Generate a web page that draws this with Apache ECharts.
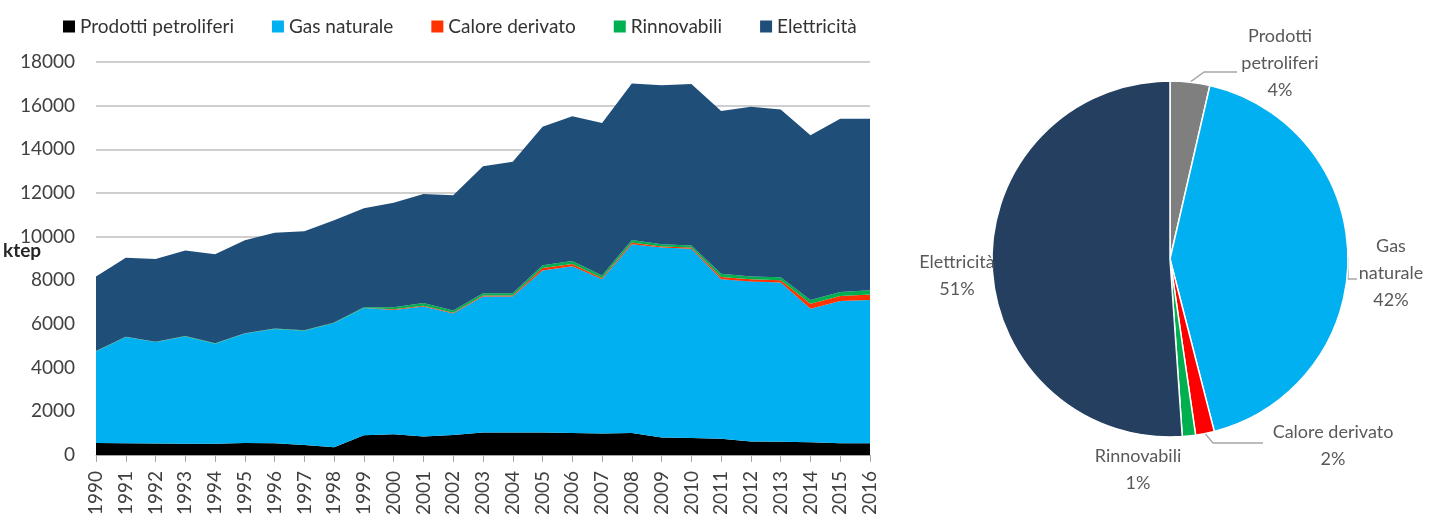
<!DOCTYPE html>
<html>
<head>
<meta charset="utf-8">
<script src="https://cdn.jsdelivr.net/npm/echarts@6/dist/echarts.min.js"></script>
<style>
html,body{margin:0;padding:0;background:#fff;}
#c{width:1446px;height:520px;}
</style>
</head>
<body>
<div id="c"></div>
<script>
const years = ['1990','1991','1992','1993','1994','1995','1996','1997','1998','1999','2000','2001','2002','2003','2004','2005','2006','2007','2008','2009','2010','2011','2012','2013','2014','2015','2016'];
const petrol = [550,540,530,520,520,550,540,460,350,900,950,850,920,1030,1030,1030,1010,990,1010,800,780,740,620,610,580,540,540];
const gas = [4190,4860,4640,4910,4580,5010,5230,5230,5700,5830,5690,5950,5560,6230,6230,7420,7640,7060,8640,8700,8670,7310,7330,7290,6120,6510,6560];
const heat = [0,0,0,0,0,0,0,0,0,0,30,40,40,50,50,120,100,60,80,50,50,100,100,100,230,230,250];
const renew = [20,20,20,20,20,20,20,20,20,40,100,120,100,100,100,120,130,110,120,100,100,150,130,140,170,180,200];
const elec = [3420,3620,3790,3920,4080,4260,4390,4540,4680,4530,4780,4990,5280,5810,6020,6340,6640,6990,7170,7290,7390,7460,7770,7680,7550,7940,7850];
const yTicks = {min:0, max:18000, interval:2000};

const seriesNames = ['Prodotti petroliferi','Gas naturale','Calore derivato','Rinnovabili','Elettricità'];
const pieLabelNames = ['Prodotti\npetroliferi','Gas\nnaturale','Calore derivato','Rinnovabili','Elettricità'];
const pieShares = [3.6, 42.4, 1.7, 1.2, 51.1];

const areaColors = ['#000000','#00B0F0','#FF3300','#00B050','#1F4E79'];
const pieColors = ['#7F7F7F','#00B0F0','#FF0000','#00B050','#243F60'];
const FONT = 'Lato';

const chart = echarts.init(document.getElementById('c'), null, {renderer:'canvas'});

const areaData = [petrol, gas, heat, renew, elec];
const areaSeries = seriesNames.map((n,i)=>({
  name:n, type:'line', stack:'tot', data:areaData[i],
  symbol:'none', showSymbol:false,
  lineStyle:{width:0}, areaStyle:{color:areaColors[i], opacity:1},
  itemStyle:{color:areaColors[i]}, z:2
}));

// label placement for pie (text layout only)
const pieLabelPos = [
  {x:1280, y:63, line:(p)=>[p, [p[0]+14,72],[1237,72]]},
  {x:1391, y:273, line:(p)=>[p, [p[0],279],[p[0]+9,279]]},
  {x:1333, y:446, line:(p)=>[p, [p[0]+8,443],[1263,443]]},
  {x:1138, y:470, line:null},
  {x:957, y:276, line:null}
];

chart.setOption({
  animation:false,
  textStyle:{fontFamily:FONT},
  legend:{
    data:seriesNames, left:58, top:12, icon:'rect', itemWidth:12, itemHeight:12, itemGap:38,
    textStyle:{fontSize:19, color:'#333333', fontFamily:FONT}
  },
  grid:{left:96, top:62, width:774, height:393, containLabel:false},
  xAxis:{
    type:'category', data:years, boundaryGap:false,
    axisLine:{show:true, lineStyle:{color:'#A6A6A6'}},
    axisTick:{show:true, length:7, lineStyle:{color:'#A6A6A6'}},
    axisLabel:{rotate:90, margin:16, fontSize:19, color:'#404040', fontFamily:FONT, interval:0}
  },
  yAxis:{
    type:'value', min:yTicks.min, max:yTicks.max, interval:yTicks.interval,
    axisLine:{show:false}, axisTick:{show:false},
    axisLabel:{margin:21, fontSize:19, color:'#404040', fontFamily:FONT, formatter:(v)=>String(v)},
    splitLine:{show:true, lineStyle:{color:'#BFBFBF', width:1.5}}
  },
  graphic:[{type:'text', left:3, top:241, style:{text:'ktep', font:'bold 19px '+FONT, fill:'#262626'}}],
  series: areaSeries.concat([{
    type:'pie', center:[1170,259], radius:178, startAngle:90, clockwise:true,
    avoidLabelOverlap:false,
    itemStyle:{borderColor:'#ffffff', borderWidth:1.5},
    label:{show:true, position:'outside', fontSize:18, lineHeight:27, color:'#595959', fontFamily:FONT, align:'center',
      formatter:(p)=>pieLabelNames[p.dataIndex]+'\n'+Math.round(p.percent)+'%'},
    labelLine:{show:true, lineStyle:{color:'#A6A6A6', width:1.3}},
    labelLayout:function(params){
      const cfg = pieLabelPos[params.dataIndex];
      const out = {x:cfg.x, y:cfg.y, align:'center', verticalAlign:'middle'};
      if(cfg.line && params.labelLinePoints){
        out.labelLinePoints = cfg.line(params.labelLinePoints[0]);
      }
      return out;
    },
    data: seriesNames.map((n,i)=>({
      name:n, value:pieShares[i], itemStyle:{color:pieColors[i]},
      labelLine:{show: pieLabelPos[i].line!==null}
    })),
    z:3
  }])
});
</script>
</body>
</html>
